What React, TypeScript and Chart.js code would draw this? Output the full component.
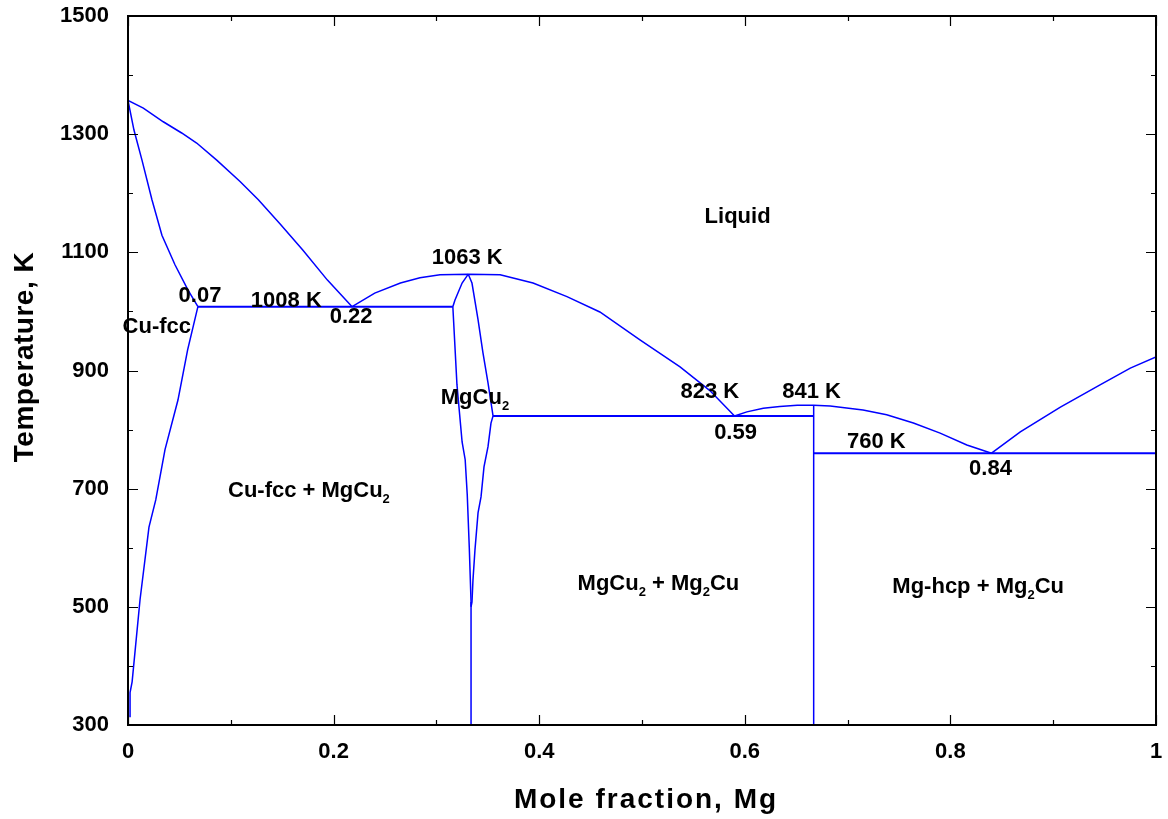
import React, { useEffect, useRef } from "react";
import { Chart, registerables } from "chart.js";

Chart.register(...registerables);

// ---- Axis ticks ----
const xMajorTicks = [0, 0.2, 0.4, 0.6, 0.8, 1];
const xTickLabels = ["0", "0.2", "0.4", "0.6", "0.8", "1"];
const xMinorTicks = [0.1, 0.3, 0.5, 0.7, 0.9];
const yMajorTicks = [300, 500, 700, 900, 1100, 1300, 1500];
const yTickLabels = ["300", "500", "700", "900", "1100", "1300", "1500"];
const yMinorTicks = [400, 600, 800, 1000, 1200, 1400];

const xAxisTitle = "Mole fraction, Mg";
const yAxisTitle = "Temperature, K";

// ---- Phase boundaries (mole fraction Mg, temperature K) ----
const cuLiquidusX = [0, 0.0149, 0.0343, 0.0522, 0.0668, 0.0863, 0.109, 0.1268, 0.148, 0.17, 0.194, 0.218];
const cuLiquidusT = [1357, 1344, 1321, 1302, 1285, 1256, 1220, 1189, 1148, 1104, 1053, 1008];

const cuSolidusX = [0, 0.0058, 0.0136, 0.0233, 0.033, 0.0457, 0.0584, 0.068];
const cuSolidusT = [1357, 1307, 1256, 1189, 1129, 1079, 1036, 1008];

const cuSolvusX = [0.068, 0.058, 0.0486, 0.036, 0.027, 0.0204, 0.0117, 0.004, 0.002, 0.002];
const cuSolvusT = [1008, 935, 850, 766, 681, 635, 512, 373, 355, 313];

const eutectic1008X = [0.068, 0.316];
const eutectic1008T = [1008, 1008];

const mgcu2LeftX = [0.331, 0.325, 0.318, 0.316, 0.32, 0.325, 0.328, 0.33, 0.332, 0.3337, 0.3337];
const mgcu2LeftT = [1063, 1048, 1019, 1008, 876, 779, 749, 690, 600, 508, 300];

const mgcu2RightX = [0.331, 0.3346, 0.3405, 0.3453, 0.3502, 0.3551, 0.3531, 0.3502, 0.3463, 0.3434, 0.3405, 0.3375, 0.3356, 0.3346, 0.3337];
const mgcu2RightT = [1063, 1048, 986, 930, 879, 823, 811, 771, 737, 686, 659, 596, 546, 508, 500];

const mgcu2LiquidusX = [0.218, 0.24, 0.265, 0.284, 0.3035, 0.331, 0.362, 0.394, 0.427, 0.459, 0.498, 0.537, 0.566, 0.59];
const mgcu2LiquidusT = [1008, 1031, 1048, 1057, 1062, 1063, 1062, 1048, 1025, 999, 952, 906, 866, 823];

const eutectic823X = [0.3551, 0.667];
const eutectic823T = [823, 823];

const mg2cuDomeX = [0.59, 0.602, 0.618, 0.634, 0.651, 0.667, 0.683, 0.693, 0.715, 0.738, 0.764, 0.79, 0.816, 0.84];
const mg2cuDomeT = [823, 830, 836, 839, 841, 841, 840, 838, 833, 825, 811, 794, 774, 760];

const mg2cuLineX = [0.667, 0.667];
const mg2cuLineT = [841, 300];

const eutectic760X = [0.667, 1];
const eutectic760T = [760, 760];

const mgLiquidusX = [0.84, 0.868, 0.907, 0.946, 0.975, 1];
const mgLiquidusT = [760, 796, 838, 876, 904, 923];

// ---- Annotations ("_" marks a subscript character) ----
const annotationTexts = [
  "Liquid", "1063 K", "0.07", "1008 K", "0.22", "Cu-fcc", "MgCu_2", "823 K", "0.59",
  "841 K", "760 K", "0.84", "Cu-fcc + MgCu_2", "MgCu_2 + Mg_2Cu", "Mg-hcp + Mg_2Cu",
];
const annotationX = [0.593, 0.33, 0.07, 0.154, 0.217, 0.028, 0.3375, 0.566, 0.591, 0.665, 0.728, 0.839, 0.176, 0.516, 0.827];
const annotationT = [1163, 1093, 1030, 1020, 994, 977, 857, 867, 798, 867, 783, 737, 699, 541, 536];

const FONT = "'Liberation Sans', Arial, Helvetica, sans-serif";

function parseRich(text: string) {
  const segs: { t: string; sub: boolean }[] = [];
  let buf = "";
  for (let i = 0; i < text.length; i++) {
    if (text[i] === "_" && i + 1 < text.length) {
      if (buf) segs.push({ t: buf, sub: false });
      buf = "";
      segs.push({ t: text[i + 1], sub: true });
      i++;
    } else buf += text[i];
  }
  if (buf) segs.push({ t: buf, sub: false });
  return segs;
}

const framePlugin = {
  id: "frameTicks",
  afterDraw(chart: any) {
    const { ctx, chartArea: a, scales } = chart;
    const xs = scales.x;
    const ys = scales.y;
    ctx.save();
    ctx.strokeStyle = "#000";
    ctx.lineWidth = 1.2;
    const xTick = (v: number, len: number) => {
      const p = Math.round(xs.getPixelForValue(v)) + 0.5;
      ctx.beginPath();
      ctx.moveTo(p, a.bottom);
      ctx.lineTo(p, a.bottom - len);
      ctx.moveTo(p, a.top);
      ctx.lineTo(p, a.top + len);
      ctx.stroke();
    };
    const yTick = (v: number, len: number) => {
      const p = Math.round(ys.getPixelForValue(v)) + 0.5;
      ctx.beginPath();
      ctx.moveTo(a.left, p);
      ctx.lineTo(a.left + len, p);
      ctx.moveTo(a.right, p);
      ctx.lineTo(a.right - len, p);
      ctx.stroke();
    };
    xMajorTicks.forEach((v) => xTick(v, 10));
    xMinorTicks.forEach((v) => xTick(v, 5));
    yMajorTicks.forEach((v) => yTick(v, 10));
    yMinorTicks.forEach((v) => yTick(v, 5));
    ctx.lineWidth = 2;
    ctx.strokeRect(a.left, a.top, a.right - a.left, a.bottom - a.top);

    // annotations
    ctx.fillStyle = "#000";
    ctx.textAlign = "left";
    ctx.textBaseline = "alphabetic";
    const mainFont = `bold 22px ${FONT}`;
    const subFont = `bold 13px ${FONT}`;
    annotationTexts.forEach((txt, i) => {
      const segs = parseRich(txt);
      let total = 0;
      const widths = segs.map((s) => {
        ctx.font = s.sub ? subFont : mainFont;
        const w = ctx.measureText(s.t).width;
        total += w;
        return w;
      });
      const cx = xs.getPixelForValue(annotationX[i]);
      const cy = ys.getPixelForValue(annotationT[i]);
      const base = cy + 0.716 * 22 / 2;
      let x = cx - total / 2;
      segs.forEach((s, k) => {
        ctx.font = s.sub ? subFont : mainFont;
        ctx.fillText(s.t, x, s.sub ? base + 6 : base);
        x += widths[k];
      });
    });

    // axis titles
    ctx.font = `bold 28px ${FONT}`;
    ctx.textAlign = "center";
    (ctx as any).letterSpacing = "2px";
    ctx.fillText(xAxisTitle, (a.left + a.right) / 2 + 4, 808);
    (ctx as any).letterSpacing = "0.5px";
    ctx.translate(33, 357);
    ctx.rotate(-Math.PI / 2);
    ctx.fillText(yAxisTitle, 0, 0);
    ctx.restore();
  },
};

export default function App() {
  const ref = useRef<HTMLCanvasElement>(null);
  useEffect(() => {
    const canvas = ref.current;
    if (!canvas) return;
    const curves = [
      { x: cuLiquidusX, t: cuLiquidusT, w: 1.5 },
      { x: cuSolidusX, t: cuSolidusT, w: 1.5 },
      { x: cuSolvusX, t: cuSolvusT, w: 1.5 },
      { x: eutectic1008X, t: eutectic1008T, w: 2 },
      { x: mgcu2LeftX, t: mgcu2LeftT, w: 1.5 },
      { x: mgcu2RightX, t: mgcu2RightT, w: 1.5 },
      { x: mgcu2LiquidusX, t: mgcu2LiquidusT, w: 1.5 },
      { x: eutectic823X, t: eutectic823T, w: 2 },
      { x: mg2cuDomeX, t: mg2cuDomeT, w: 1.5 },
      { x: mg2cuLineX, t: mg2cuLineT, w: 1.5 },
      { x: eutectic760X, t: eutectic760T, w: 2 },
      { x: mgLiquidusX, t: mgLiquidusT, w: 1.5 },
    ];
    const datasets = curves.map((c) => ({
      data: c.x.map((x, i) => ({ x, y: c.t[i] })),
      showLine: true,
      borderColor: "#0000ff",
      backgroundColor: "#0000ff",
      borderWidth: c.w,
      pointRadius: 0,
      pointHoverRadius: 0,
      fill: false,
      tension: 0,
    }));
    const tickFont = { family: FONT, size: 22, weight: "bold" as const };
    const chart = new Chart(canvas, {
      type: "scatter",
      data: { datasets },
      options: {
        animation: false,
        responsive: true,
        maintainAspectRatio: false,
        events: [],
        layout: { autoPadding: false, padding: { top: 16, right: 12, bottom: 0, left: 0 } },
        plugins: { legend: { display: false }, tooltip: { enabled: false } },
        scales: {
          x: {
            type: "linear",
            position: "bottom",
            min: 0,
            max: 1,
            afterFit: (s: any) => {
              s.height = 94;
              s.paddingLeft = 0;
              s.paddingRight = 0;
            },
            grid: { display: false, drawTicks: false },
            border: { display: false },
            ticks: {
              stepSize: 0.2,
              padding: 14,
              color: "#000",
              font: tickFont,
              maxRotation: 0,
              autoSkip: false,
              callback: (v: any) => {
                const i = xMajorTicks.findIndex((t) => Math.abs(t - Number(v)) < 1e-6);
                return i >= 0 ? xTickLabels[i] : "";
              },
            },
          },
          y: {
            type: "linear",
            position: "left",
            min: 300,
            max: 1500,
            afterFit: (s: any) => {
              s.width = 128;
              s.paddingTop = 0;
              s.paddingBottom = 0;
            },
            grid: { display: false, drawTicks: false },
            border: { display: false },
            ticks: {
              stepSize: 200,
              padding: 19,
              color: "#000",
              font: tickFont,
              autoSkip: false,
              callback: (v: any) => {
                const i = yMajorTicks.findIndex((t) => Math.abs(t - Number(v)) < 1e-6);
                return i >= 0 ? yTickLabels[i] : "";
              },
            },
          },
        },
      },
      plugins: [framePlugin],
    });
    return () => chart.destroy();
  }, []);
  return (
    <div style={{ position: "absolute", left: 0, top: 0, width: 1168, height: 819, background: "#fff" }}>
      <canvas ref={ref} />
    </div>
  );
}
